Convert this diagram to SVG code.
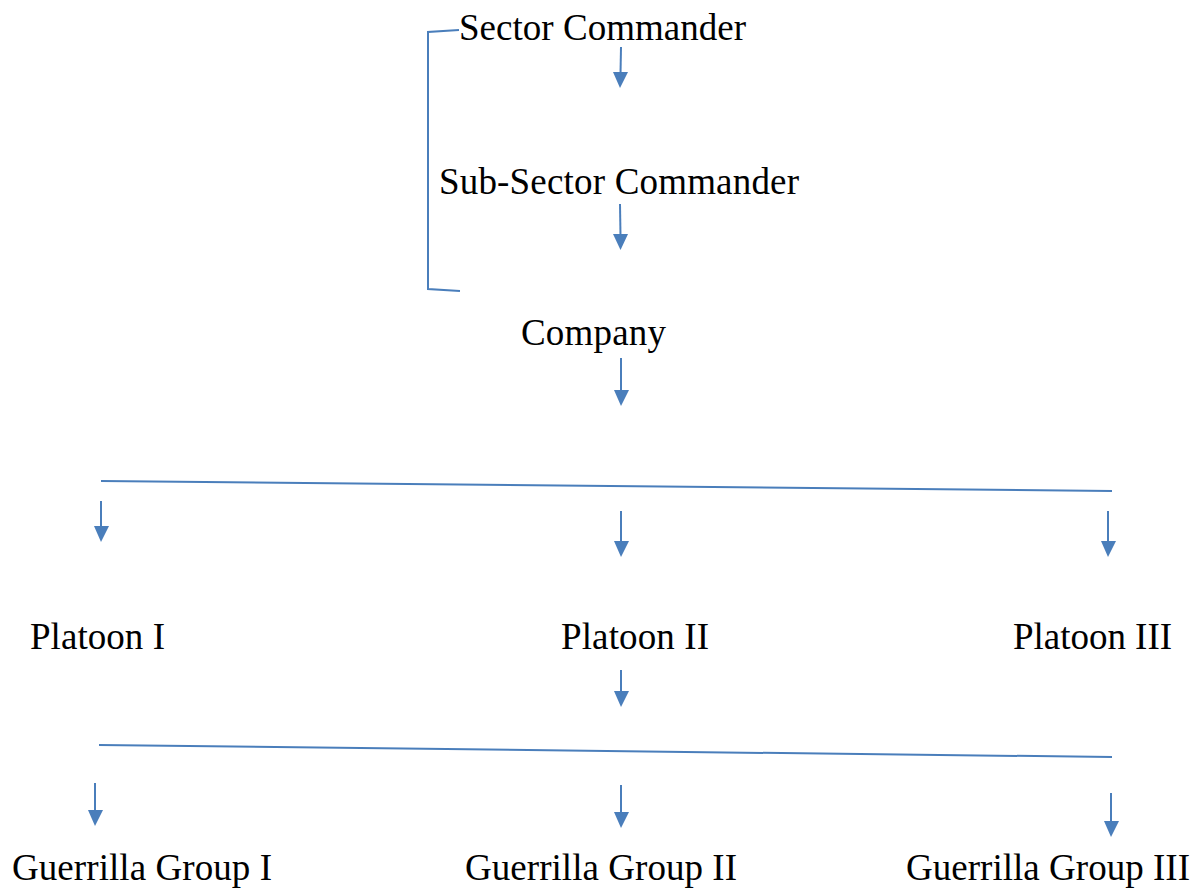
<svg xmlns="http://www.w3.org/2000/svg" width="1202" height="888" viewBox="0 0 1202 888">
<style>
.t{font-family:"Liberation Serif","Times New Roman",serif;font-size:37px;fill:#000}
.c{stroke:#4a7ebb;stroke-width:2;fill:none}
</style>
<rect width="1202" height="888" fill="#fff"/>
<g id="connectors">
<path class="c" d="M459,30 L428,32 L428,289 L460,291"/>
<line class="c" x1="101" y1="481" x2="1112" y2="491"/>
<line class="c" x1="99" y1="745" x2="1112" y2="757"/>
<g fill="#4a7ebb">
<line class="c" x1="621" y1="47" x2="620.5" y2="74"/><polygon points="613,72 628,72 620,88"/>
<line class="c" x1="620" y1="204" x2="620.5" y2="236"/><polygon points="613,234 628,234 620.5,250"/>
<line class="c" x1="621" y1="358" x2="621" y2="392"/><polygon points="614,390 629,390 621,406"/>
<line class="c" x1="101" y1="501" x2="101" y2="528"/><polygon points="94,526 109,526 101,542"/>
<line class="c" x1="621" y1="511" x2="621" y2="543"/><polygon points="614,541 629,541 621,557"/>
<line class="c" x1="1108" y1="511" x2="1108" y2="543"/><polygon points="1101,541 1116,541 1108,557"/>
<line class="c" x1="621" y1="670" x2="621" y2="693"/><polygon points="614,691 629,691 621,707"/>
<line class="c" x1="95" y1="783" x2="95" y2="812"/><polygon points="88,810 103,810 95,826"/>
<line class="c" x1="621" y1="785" x2="621" y2="814"/><polygon points="614,812 629,812 621,828"/>
<line class="c" x1="1111" y1="793" x2="1111" y2="823"/><polygon points="1104,821 1119,821 1111,837"/>
</g>
</g>
<g id="sector"><text class="t" x="459" y="40" textLength="287">Sector Commander</text></g>
<g id="subsector"><text class="t" x="439" y="194" textLength="360">Sub-Sector Commander</text></g>
<g id="company"><text class="t" x="521" y="345" textLength="145">Company</text></g>
<g id="platoon1"><text class="t" x="30" y="649" textLength="135">Platoon I</text></g>
<g id="platoon2"><text class="t" x="561" y="649" textLength="148">Platoon II</text></g>
<g id="platoon3"><text class="t" x="1013" y="649" textLength="159">Platoon III</text></g>
<g id="group1"><text class="t" x="12" y="880" textLength="260">Guerrilla Group I</text></g>
<g id="group2"><text class="t" x="465" y="880" textLength="272">Guerrilla Group II</text></g>
<g id="group3"><text class="t" x="906" y="880" textLength="284">Guerrilla Group III</text></g>
</svg>
